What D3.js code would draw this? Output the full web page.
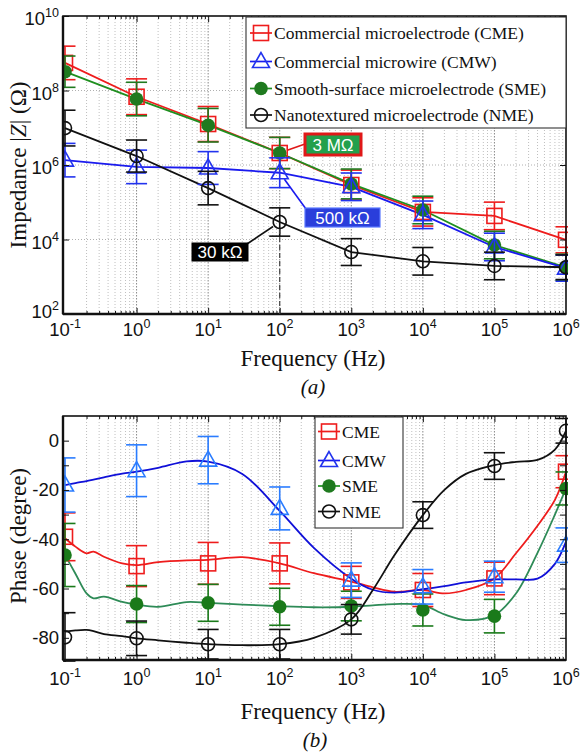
<!DOCTYPE html>
<html><head><meta charset="utf-8">
<script src="https://cdn.jsdelivr.net/npm/d3@7"></script>
<style>body{margin:0;background:#fff}svg{display:block}</style>
</head><body>
<svg id="c" width="585" height="756"></svg>
<script>
// ---------------- DATA ----------------
const frequencies = [0.1, 1, 10, 100, 1e3, 1e4, 1e5, 1e6];
const seriesKeys = ["CME", "CMW", "SME", "NME"];
const legendLabelsA = ["Commercial microelectrode (CME)", "Commercial microwire (CMW)",
  "Smooth-surface microelectrode (SME)", "Nanotextured microelectrode (NME)"];
const legendLabelsB = ["CME", "CMW", "SME", "NME"];

// (a) impedance |Z| in ohms, error bars in decades
const impedanceCME = [5.5e8, 6.8e7, 1.26e7, 2.1e6, 2.9e5, 5.5e4, 4.3e4, 9.8e3];
const impedanceCMW = [1.35e6, 8.9e5, 8.3e5, 6.2e5, 2.6e5, 4.6e4, 6.3e3, 1.7e3];
const impedanceSME = [3.2e8, 5.9e7, 1.17e7, 2.1e6, 3.1e5, 6.2e4, 7.1e3, 1.8e3];
const impedanceNME = [9.8e6, 1.74e6, 2.4e5, 2.95e4, 4.6e3, 2.6e3, 1.95e3, 1.8e3];
const impedanceErrCME = [0.45, 0.48, 0.47, 0.42, 0.40, 0.38, 0.37, 0.35];
const impedanceErrCMW = [0.45, 0.45, 0.44, 0.40, 0.37, 0.37, 0.37, 0.35];
const impedanceErrSME = [0.42, 0.45, 0.45, 0.42, 0.40, 0.37, 0.37, 0.35];
const impedanceErrNME = [0.48, 0.43, 0.45, 0.38, 0.36, 0.37, 0.37, 0.33];

// (b) phase in degrees (markers) and error bars
const phaseCME = [-39, -50.9, -49.8, -49.8, -57.5, -60.6, -55.9, -12.6];
const phaseCMW = [-18, -12.2, -7.9, -27.5, -56.6, -59.3, -55.2, -42.4];
const phaseSME = [-46.4, -66.3, -65.8, -67.4, -67.1, -68.7, -71.2, -19.4];
const phaseNME = [-79.8, -80.2, -82.6, -82.6, -72.5, -30.2, -10.3, 4.0];
const phaseErrCME = [9.7, 8.3, 8.5, 8.3, 6.5, 6.7, 6.6, 6.5];
const phaseErrCMW = [11, 10.5, 9.6, 8.7, 7, 7, 6.3, 7];
const phaseErrSME = [12.8, 7.5, 7.5, 7.5, 6, 6.5, 6.8, 6.7];
const phaseErrNME = [10, 7, 6, 6, 6, 5.4, 5.4, 5];

// (b) measured phase curves (continuous lines)
const curveFreq = [0.1, 0.14, 0.2, 0.25, 0.35, 0.63, 1, 2, 5, 10, 30, 100, 300, 1000, 2000, 4000,
  1e4, 2e4, 4e4, 1e5, 2e5, 4e5, 7e5, 1e6];
const curveCME = [-39.6, -43, -45.7, -45, -47.1, -49.8, -50.5, -49.3, -48.6, -48.4, -47.3, -49.8,
  -53.8, -57.2, -59.5, -61.3, -60.6, -62, -60.6, -55.9, -45.7, -34.5, -24, -12.6];
const curveCMW = [-18, -17.2, -16.4, -15.8, -14.9, -13.4, -12.6, -11, -8.4, -8.5, -13.5, -28.5,
  -43.5, -56, -60.5, -61.7, -60.3, -59, -57.5, -56.3, -56.3, -56, -50, -41];
const curveSME = [-46.4, -54, -62, -64, -63.3, -65.4, -66.5, -67.4, -65.5, -65.8, -66.5, -67.2,
  -67.6, -67.4, -66.8, -66.3, -66.7, -70.5, -72.8, -70.8, -62, -45.5, -30, -19.4];
const curveNME = [-77.5, -77, -76.8, -77.3, -78.5, -79.3, -80.2, -81, -82, -82.6, -83, -82.6,
  -80, -72.5, -60.6, -46.5, -30.2, -20, -13.5, -9.9, -8.6, -7.8, -3.6, 4];

// ticks
const xTickExponents = [-1, 0, 1, 2, 3, 4, 5, 6];
const yTickExponentsA = [2, 4, 6, 8, 10];
const yTicksB = [-80, -60, -40, -20, 0];
const yMinorTicksB = [-80, -70, -60, -50, -40, -30, -20, -10, 0];

// annotations (a)
const annotationTexts = ["3 M\u03A9", "500 k\u03A9", "30 k\u03A9"];

// ---------------- STYLE ----------------
const serif = "'Liberation Serif','Times New Roman',serif";
const sans = "'Liberation Sans',Arial,sans-serif";
const sty = {
  CME: {shape: "square", lineA: "#ee1c1c", markA: "#ee1c1c", lineB: "#ee1c1c", markB: "#ee1c1c"},
  CMW: {shape: "triangle", lineA: "#1a1aee", markA: "#2233ee", lineB: "#1010d8", markB: "#2a7cff"},
  SME: {shape: "dot", lineA: "#1f8f1f", markA: "#1f7a1f", lineB: "#2e8b57", markB: "#1a7a1a"},
  NME: {shape: "circle", lineA: "#111", markA: "#111", lineB: "#111", markB: "#111"}
};
const dataA = {CME: [impedanceCME, impedanceErrCME], CMW: [impedanceCMW, impedanceErrCMW],
  SME: [impedanceSME, impedanceErrSME], NME: [impedanceNME, impedanceErrNME]};
const dataB = {CME: [phaseCME, phaseErrCME, curveCME], CMW: [phaseCMW, phaseErrCMW, curveCMW],
  SME: [phaseSME, phaseErrSME, curveSME], NME: [phaseNME, phaseErrNME, curveNME]};

const svg = d3.select("#c");
const L = 63, R = 566;
const A = {T: 16, B: 314}, Bp = {T: 416, B: 660};

const x = d3.scaleLog().domain([0.1, 1e6]).range([65, 566]);
const yA = d3.scaleLog().domain([1e2, 1e10]).range([A.B, A.T]);
const yB = d3.scaleLinear().domain([-89, 10]).range([Bp.B, Bp.T]);

function marker(g, shape, cx, cy, color, s = 1) {
  if (shape === "square") {
    g.append("rect").attr("x", cx - 7.5 * s).attr("y", cy - 7.5 * s).attr("width", 15 * s).attr("height", 15 * s)
      .attr("fill", "none").attr("stroke", color).attr("stroke-width", 1.6);
  } else if (shape === "triangle") {
    g.append("path").attr("d", `M${cx},${cy - 9 * s}L${cx - 8.5 * s},${cy + 6 * s}L${cx + 8.5 * s},${cy + 6 * s}Z`)
      .attr("fill", "none").attr("stroke", color).attr("stroke-width", 1.6);
  } else if (shape === "dot") {
    g.append("circle").attr("cx", cx).attr("cy", cy).attr("r", 6.8 * s).attr("fill", color);
  } else {
    g.append("circle").attr("cx", cx).attr("cy", cy).attr("r", 6.5 * s).attr("fill", "none")
      .attr("stroke", color).attr("stroke-width", 1.6);
  }
}
function errbar(g, cx, y1, y2, color) {
  const w = 10.5;
  g.append("line").attr("x1", cx).attr("x2", cx).attr("y1", y1).attr("y2", y2).attr("stroke", color).attr("stroke-width", 1.6);
  g.append("line").attr("x1", cx - w).attr("x2", cx + w).attr("y1", y1).attr("y2", y1).attr("stroke", color).attr("stroke-width", 1.6);
  g.append("line").attr("x1", cx - w).attr("x2", cx + w).attr("y1", y2).attr("y2", y2).attr("stroke", color).attr("stroke-width", 1.6);
}
function sup(g, xx, yy, exp, anchor, size = 18.5) {
  const t = g.append("text").attr("x", xx).attr("y", yy).attr("text-anchor", anchor)
    .attr("font-family", sans).attr("font-size", size).attr("fill", "#111");
  t.append("tspan").text("10");
  t.append("tspan").attr("dy", -8).attr("font-size", 12.5).text(exp);
}

// grid positions (decade subdivisions)
const minorVals = [];
for (let d = -1; d < 6; d++) for (let k = 2; k <= 9; k++) minorVals.push(k * Math.pow(10, d));
const majorVals = xTickExponents.slice(1, -1).map(e => Math.pow(10, e));

function frame(P, clipId) {
  const g = svg.append("g");
  g.selectAll(".vmin").data(minorVals).join("line").attr("x1", d => x(d)).attr("x2", d => x(d))
    .attr("y1", P.T).attr("y2", P.B).attr("stroke", "#b8b8b8").attr("stroke-width", 0.9).attr("stroke-dasharray", "1,2");
  g.selectAll(".vmaj").data(majorVals).join("line").attr("x1", d => x(d)).attr("x2", d => x(d))
    .attr("y1", P.T).attr("y2", P.B).attr("stroke", "#888").attr("stroke-width", 1).attr("stroke-dasharray", "1.5,1.5");
  svg.append("clipPath").attr("id", clipId).append("rect").attr("x", L).attr("y", P.T - 8).attr("width", R - L + 2).attr("height", P.B - P.T + 10);
  return g;
}
function boxAxes(P, yScale, yTickVals) {
  const g = svg.append("g");
  const noDomain = s => s.select(".domain").remove();
  g.append("g").attr("transform", `translate(0,${P.B})`)
    .call(d3.axisBottom(x).tickValues(minorVals).tickSize(-3).tickFormat("")).call(noDomain);
  g.append("g").attr("transform", `translate(0,${P.B})`)
    .call(d3.axisBottom(x).tickValues(majorVals).tickSize(-6).tickFormat("")).call(noDomain);
  g.append("g").attr("transform", `translate(0,${P.T})`)
    .call(d3.axisTop(x).tickValues(minorVals).tickSize(-3).tickFormat("")).call(noDomain);
  g.append("g").attr("transform", `translate(0,${P.T})`)
    .call(d3.axisTop(x).tickValues(majorVals).tickSize(-6).tickFormat("")).call(noDomain);
  g.append("g").attr("transform", `translate(${L},0)`)
    .call(d3.axisLeft(yScale).tickValues(yTickVals).tickSize(-6).tickFormat("")).call(noDomain);
  g.append("g").attr("transform", `translate(${R},0)`)
    .call(d3.axisRight(yScale).tickValues(yTickVals).tickSize(-6).tickFormat("")).call(noDomain);
  g.selectAll(".tick line").attr("stroke", "#111");
  g.append("rect").attr("x", L).attr("y", P.T).attr("width", R - L).attr("height", P.B - P.T)
    .attr("fill", "none").attr("stroke", "#111").attr("stroke-width", 1.6);
  g.append("line").attr("x1", L).attr("x2", L).attr("y1", P.T).attr("y2", P.B).attr("stroke", "#111").attr("stroke-width", 2.4);
  g.append("line").attr("x1", L).attr("x2", R).attr("y1", P.B).attr("y2", P.B).attr("stroke", "#111").attr("stroke-width", 2.4);
}

// ================= PANEL (a) =================
const gA = frame(A, "clipA");
gA.selectAll(".hg").data([1e4, 1e6, 1e8]).join("line").attr("x1", L).attr("x2", R)
  .attr("y1", d => yA(d)).attr("y2", d => yA(d)).attr("stroke", "#b0b0b0").attr("stroke-dasharray", "1,2");

const plotA = svg.append("g").attr("clip-path", "url(#clipA)");
const lineA = d3.line().x(d => x(d[0])).y(d => yA(d[1]));
const orderA = ["CME", "SME", "CMW", "NME"];
orderA.forEach(k => {
  const [v] = dataA[k];
  plotA.append("path").attr("d", lineA(frequencies.map((f, i) => [f, v[i]])))
    .attr("fill", "none").attr("stroke", sty[k].lineA).attr("stroke-width", 1.8);
});
orderA.forEach(k => {
  const [v, e] = dataA[k];
  frequencies.forEach((f, i) => {
    errbar(plotA, x(f), yA(v[i] * Math.pow(10, e[i])), yA(v[i] / Math.pow(10, e[i])), sty[k].markA);
  });
  frequencies.forEach((f, i) => marker(plotA, sty[k].shape, x(f), yA(v[i]), sty[k].markA));
});
boxAxes(A, yA, yTickExponentsA.map(e => Math.pow(10, e)));

// dashed guide at 100 Hz (NME)
const pNME = [x(frequencies[3]), yA(impedanceNME[3])];
svg.append("line").attr("x1", pNME[0]).attr("x2", pNME[0]).attr("y1", pNME[1] + 7).attr("y2", A.B)
  .attr("stroke", "#444").attr("stroke-width", 1.2).attr("stroke-dasharray", "5,3");

// annotations
function callout(text, bx, by, bw, bh, fill, stroke, sw, target, lineColor, ax, ay) {
  const dx = target[0] - ax, dy = target[1] - ay, len = Math.hypot(dx, dy);
  svg.append("line").attr("x1", ax).attr("y1", ay).attr("x2", target[0] - dx / len * 8).attr("y2", target[1] - dy / len * 8)
    .attr("stroke", lineColor).attr("stroke-width", 1.6);
  svg.append("rect").attr("x", bx).attr("y", by).attr("width", bw).attr("height", bh)
    .attr("fill", fill).attr("stroke", stroke).attr("stroke-width", sw);
  svg.append("text").attr("x", bx + bw / 2).attr("y", by + bh / 2 + 6).attr("text-anchor", "middle")
    .attr("font-family", sans).attr("font-size", 17).attr("fill", "#fff").text(text);
}
callout(annotationTexts[0], 305, 134, 56, 21, "#23a04c", "#e01818", 3,
  [x(frequencies[3]), yA(impedanceCME[3])], "#e01818", 305, 144);
callout(annotationTexts[1], 305, 208, 75, 19, "#2a3edb", "#5a78ff", 1.2,
  [x(frequencies[3]), yA(impedanceCMW[3])], "#1a1aee", 306, 209);
callout(annotationTexts[2], 192, 243, 56, 18, "#000", "#000", 1,
  [x(frequencies[3]), yA(impedanceNME[3])], "#111", 247, 244);

// legend (a)
const legA = svg.append("g");
legA.append("rect").attr("x", 246).attr("y", 17).attr("width", 320).attr("height", 111)
  .attr("fill", "#fff").attr("stroke", "#333").attr("stroke-width", 1.1);
const rowsA = [33, 61.5, 88.5, 115];
seriesKeys.forEach((k, i) => {
  legA.append("line").attr("x1", 250).attr("x2", 272).attr("y1", rowsA[i]).attr("y2", rowsA[i])
    .attr("stroke", sty[k].lineA).attr("stroke-width", 1.7);
  marker(legA, sty[k].shape, 261, rowsA[i], sty[k].markA);
  legA.append("text").attr("x", 274).attr("y", rowsA[i] + 6).attr("font-family", serif).attr("font-size", 17.5)
    .attr("fill", "#111").text(legendLabelsA[i]);
});

// tick labels (a)
xTickExponents.forEach(e => sup(svg, x(Math.pow(10, e)), 336, e, "middle"));
yTickExponentsA.forEach(e => sup(svg, 59, yA(Math.pow(10, e)) + (e === 2 ? 4 : 9), e, "end"));

// axis titles (a)
svg.append("text").attr("x", 313).attr("y", 366).attr("text-anchor", "middle").attr("font-family", serif)
  .attr("font-size", 23).attr("fill", "#111").text("Frequency (Hz)");
svg.append("text").attr("x", 313).attr("y", 394).attr("text-anchor", "middle").attr("font-family", serif)
  .attr("font-size", 21).attr("font-style", "italic").attr("fill", "#111").text("(a)");
const ylA = svg.append("text").attr("transform", "translate(26,165) rotate(-90)").attr("text-anchor", "middle")
  .attr("font-family", serif).attr("font-size", 23).attr("fill", "#111");
ylA.append("tspan").text("Impedance |");
ylA.append("tspan").attr("font-style", "italic").text("Z");
ylA.append("tspan").text("| (\u03A9)");

// ================= PANEL (b) =================
frame(Bp, "clipB");
const plotB = svg.append("g").attr("clip-path", "url(#clipB)");
const lineB = d3.line().x(d => x(d[0])).y(d => yB(d[1])).curve(d3.curveCatmullRom.alpha(0.5));
const orderB = ["CME", "SME", "CMW", "NME"];
orderB.forEach(k => {
  const c = dataB[k][2];
  plotB.append("path").attr("d", lineB(curveFreq.map((f, i) => [f, c[i]])))
    .attr("fill", "none").attr("stroke", sty[k].lineB).attr("stroke-width", 1.8);
});
orderB.forEach(k => {
  const [v, e] = dataB[k];
  frequencies.forEach((f, i) => errbar(plotB, x(f), yB(v[i] + e[i]), yB(v[i] - e[i]), sty[k].markB));
  frequencies.forEach((f, i) => marker(plotB, sty[k].shape, x(f), yB(v[i]), sty[k].markB));
});
boxAxes(Bp, yB, yMinorTicksB);

// legend (b)
const legB = svg.append("g");
legB.append("rect").attr("x", 315).attr("y", 417).attr("width", 88).attr("height", 111)
  .attr("fill", "#fff").attr("stroke", "#333").attr("stroke-width", 1.1);
const rowsB = [431.5, 460.5, 486, 511.5];
seriesKeys.forEach((k, i) => {
  legB.append("line").attr("x1", 318).attr("x2", 340).attr("y1", rowsB[i]).attr("y2", rowsB[i])
    .attr("stroke", sty[k].lineA).attr("stroke-width", 1.7);
  marker(legB, sty[k].shape, 329, rowsB[i], k === "CMW" ? "#2233ee" : sty[k].markA);
  legB.append("text").attr("x", 342).attr("y", rowsB[i] + 6).attr("font-family", serif).attr("font-size", 17.5)
    .attr("fill", "#111").text(legendLabelsB[i]);
});

// tick labels (b)
xTickExponents.forEach(e => sup(svg, x(Math.pow(10, e)), 685, e, "middle"));
yTicksB.forEach(v => svg.append("text").attr("x", 59).attr("y", yB(v) + 6.5).attr("text-anchor", "end")
  .attr("font-family", sans).attr("font-size", 18.5).attr("fill", "#111").text(v));

svg.append("text").attr("x", 313).attr("y", 719).attr("text-anchor", "middle").attr("font-family", serif)
  .attr("font-size", 23).attr("fill", "#111").text("Frequency (Hz)");
svg.append("text").attr("x", 315).attr("y", 747).attr("text-anchor", "middle").attr("font-family", serif)
  .attr("font-size", 21).attr("font-style", "italic").attr("fill", "#111").text("(b)");
svg.append("text").attr("transform", "translate(26,536) rotate(-90)").attr("text-anchor", "middle")
  .attr("font-family", serif).attr("font-size", 23).attr("fill", "#111").text("Phase (degree)");
</script>
</body></html>
